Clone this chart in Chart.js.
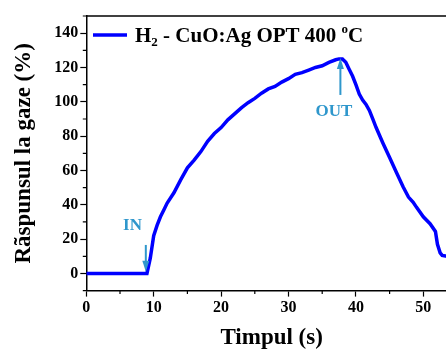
<!DOCTYPE html>
<html><head><meta charset="utf-8">
<script src="https://cdn.jsdelivr.net/npm/chart.js@4.4.1/dist/chart.umd.min.js"></script>
<style>html,body{margin:0;padding:0;overflow:hidden;background:#fff}#wrap{width:457px;height:352px;position:relative}</style>
</head><body><div id="wrap"><canvas id="c"></canvas></div>
<script>
// ---- data ----
const timeS = [0, 3, 6, 9.0, 9.5, 10, 10.5, 11, 11.5, 12, 13, 14, 15, 16, 17, 18, 19, 20, 21, 22, 23, 24, 25, 26, 27, 28, 29, 30, 31, 32, 33, 34, 35, 36, 37, 37.5, 38, 38.5, 39, 39.5, 40, 40.5, 41, 41.5, 42, 42.5, 43, 44, 45, 46, 47, 47.8, 48.5, 49, 50, 51, 51.8, 52.1, 52.5, 52.8, 53.5, 55];
const response = [0, 0, 0, 0, 9, 22, 28, 33, 37, 41, 47, 54.5, 61.5, 66, 71, 77, 81.5, 85, 89.5, 93, 96.5, 99.5, 102, 105, 107.5, 109, 111.5, 113.5, 116, 117, 118.5, 120, 121, 123, 124.5, 125, 125, 123, 119, 115, 110, 104.5, 101, 98.5, 95, 90, 85, 76, 67.5, 59, 50.5, 44.5, 41.5, 38.5, 33, 29, 24.5, 17, 12, 10.5, 10, 9.5];
const xTicks = [0, 10, 20, 30, 40, 50];
const yTicks = [0, 20, 40, 60, 80, 100, 120, 140];
const legendParts = [{t:'H'},{t:'2',sub:true},{t:' - CuO:Ag OPT 400 '},{t:'o',sup:true},{t:'C'}];
const xAxisTitle = 'Timpul (s)';
const yAxisTitle = 'Rãspunsul la gaze (%)';
// annotations: label, label anchor (x,y), arrow from (x,y) to (x,y)
const annoLabels = ['IN', 'OUT'];
const annoLabelX = [6.85, 36.75];
const annoLabelY = [25.4, 91.8];
const annoArrowX = [8.83, 37.7];
const annoArrowFromY = [16.6, 104];
const annoArrowToY = [1, 125.5];

const FONT = '"Liberation Serif", "Times New Roman", serif';
const annoColor = '#2f97cc';

const extras = {
  id: 'extras',
  afterDraw(chart) {
    const ctx = chart.ctx, ca = chart.chartArea;
    const xs = chart.scales.x, ys = chart.scales.y;
    ctx.save();
    // top frame
    ctx.strokeStyle = '#000'; ctx.lineWidth = 1.5;
    ctx.beginPath(); ctx.moveTo(ca.left, ca.top); ctx.lineTo(ca.right, ca.top); ctx.stroke();
    // minor ticks
    ctx.lineWidth = 1.2;
    ctx.beginPath();
    for (let v = 5; v < xs.max; v += 10) { const p = xs.getPixelForValue(v); ctx.moveTo(p, ca.bottom); ctx.lineTo(p, ca.bottom + 3.5); }
    for (let v = -10; v <= ys.max; v += 20) { const p = ys.getPixelForValue(v); ctx.moveTo(ca.left, p); ctx.lineTo(ca.left - 3.5, p); }
    ctx.stroke();
    // legend
    const ly = 35, lx0 = 93, lx1 = 127;
    ctx.strokeStyle = '#0000ff'; ctx.lineWidth = 3.5;
    ctx.beginPath(); ctx.moveTo(lx0, ly); ctx.lineTo(lx1, ly); ctx.stroke();
    ctx.fillStyle = '#000'; ctx.textBaseline = 'alphabetic'; ctx.textAlign = 'left';
    let x = 135; const base = 42;
    for (const p of legendParts) {
      if (p.sub) { ctx.font = 'bold 13px ' + FONT; ctx.fillText(p.t, x, base + 4); }
      else if (p.sup) { ctx.font = 'bold 13px ' + FONT; ctx.fillText(p.t, x, base - 9); }
      else { ctx.font = 'bold 21px ' + FONT; ctx.fillText(p.t, x, base); }
      x += ctx.measureText(p.t).width;
    }
    // annotations
    ctx.fillStyle = annoColor; ctx.strokeStyle = annoColor;
    ctx.font = 'bold 17px ' + FONT; ctx.textAlign = 'center';
    for (let i = 0; i < annoLabels.length; i++) {
      ctx.fillText(annoLabels[i], xs.getPixelForValue(annoLabelX[i]), ys.getPixelForValue(annoLabelY[i]));
      const ax = xs.getPixelForValue(annoArrowX[i]);
      const y0 = ys.getPixelForValue(annoArrowFromY[i]);
      const y1 = ys.getPixelForValue(annoArrowToY[i]);
      const dir = y1 > y0 ? 1 : -1;
      ctx.lineWidth = 2;
      ctx.beginPath(); ctx.moveTo(ax, y0); ctx.lineTo(ax, y1 - dir * 8); ctx.stroke();
      ctx.beginPath(); ctx.moveTo(ax, y1); ctx.lineTo(ax - 3.5, y1 - dir * 11); ctx.lineTo(ax + 3.5, y1 - dir * 11); ctx.closePath(); ctx.fill();
    }
    ctx.restore();
  }
};

new Chart(document.getElementById('c'), {
  type: 'scatter',
  data: { datasets: [{
    data: timeS.map((t, i) => ({x: t, y: response[i]})),
    showLine: true, borderColor: '#0000ff', borderWidth: 3.5, pointRadius: 0, tension: 0, fill: false
  }]},
  options: {
    responsive: true, maintainAspectRatio: false, animation: false,
    layout: { padding: { top: 16, right: 0, left: 0, bottom: 0 } },
    plugins: { legend: { display: false }, tooltip: { enabled: false } },
    scales: {
      x: {
        type: 'linear', min: 0, max: 55,
        afterFit(s) { s.height = 61.4; },
        afterBuildTicks(s) { s.ticks = xTicks.map(v => ({value: v})); },
        ticks: { autoSkip: false, maxRotation: 0, padding: 2, color: '#000', font: { family: FONT, size: 16, weight: 'bold' } },
        grid: { display: true, drawOnChartArea: false, drawTicks: true, tickLength: 6, tickColor: '#000', tickWidth: 1.2 },
        border: { display: true, color: '#000', width: 1.5 },
        title: { display: true, text: xAxisTitle, color: '#000', padding: { top: 0, bottom: 0 }, font: { family: FONT, size: 23, weight: 'bold' } }
      },
      y: {
        type: 'linear', min: -10, max: 150,
        afterFit(s) { s.width = 86.3; },
        afterBuildTicks(s) { s.ticks = yTicks.map(v => ({value: v})); },
        ticks: { autoSkip: false, padding: 2, color: '#000', font: { family: FONT, size: 16, weight: 'bold' } },
        grid: { display: true, drawOnChartArea: false, drawTicks: true, tickLength: 6, tickColor: '#000', tickWidth: 1.2 },
        border: { display: true, color: '#000', width: 1.5 },
        title: { display: true, text: yAxisTitle, color: '#000', padding: { top: 10, bottom: 0 }, font: { family: FONT, size: 23, weight: 'bold' } }
      }
    }
  },
  plugins: [extras]
});
</script></body></html>
